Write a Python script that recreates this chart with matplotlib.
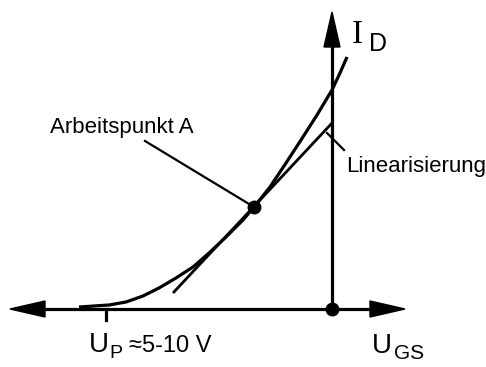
import numpy as np
import matplotlib.pyplot as plt
from matplotlib.patches import Polygon

# Kennlinie (U_GS, I_D) in Zeichnungseinheiten, Ursprung = Achsenkreuz
ugs = [-253, -223, -206, -189, -173, -156, -139, -123, -106, -89, -78,
       -62, -46, -31, -15, 0, 8, 15]
i_d = [2, 4, 7, 13, 21, 31, 42, 56, 72, 89, 102,
       122, 146, 169, 194, 219, 236, 252]

# Linearisierung (Tangente im Arbeitspunkt)
lin_u = [-159, 1]
lin_i = [16, 187]

# Arbeitspunkt A
a_u, a_i = -78, 102
up_u = -226   # Lage von U_P

x_min, x_max = -322, 73
y_max = 297

sans = ['Liberation Sans', 'DejaVu Sans']

fig = plt.figure(figsize=(4.86, 3.67), dpi=100)
ax = fig.add_axes([0, 0, 1, 1])
ax.set_xlim(-332, 154)
ax.set_ylim(-58, 309)
ax.axis('off')

lw = 2.3
# Achsen
ax.plot([x_min + 30, x_max - 30], [0, 0], color='black', lw=lw)
ax.plot([0, 0], [0, y_max - 30], color='black', lw=lw)
hl, hw = 35, 8
ax.add_patch(Polygon([[x_max, 0], [x_max - hl, hw], [x_max - hl, -hw]], color='black'))
ax.add_patch(Polygon([[x_min, 0], [x_min + hl, hw], [x_min + hl, -hw]], color='black'))
ax.add_patch(Polygon([[0, y_max], [-hw, y_max - hl], [hw, y_max - hl]], color='black'))
ax.plot([up_u, up_u], [0, -11], color='black', lw=lw)

# Kennlinie und Tangente
ax.plot(ugs, i_d, color='black', lw=lw, solid_capstyle='butt', solid_joinstyle='round')
ax.plot(lin_u, lin_i, color='black', lw=2.0, solid_capstyle='butt')

# Punkte
ax.plot([a_u], [a_i], 'o', color='black', ms=9)
ax.plot([0], [0], 'o', color='black', ms=9)

# Beschriftungen
ax.plot([-187, a_u], [168, a_i], color='black', lw=1.6)
ax.text(-282, 176, 'Arbeitspunkt A', family=sans, fontsize=16, va='baseline')
ax.plot([-5, 12], [176, 159], color='black', lw=1.6)
ax.text(14, 137, 'Linearisierung', family=sans, fontsize=16, va='baseline')

ax.text(20, 266, 'I', family=['Liberation Serif', 'DejaVu Serif'], fontsize=24, va='baseline')
ax.text(37, 258, 'D', family=sans, fontsize=18, va='baseline')

ax.text(40, -44, 'U', family=sans, fontsize=20, va='baseline')
ax.text(62, -50, 'GS', family=sans, fontsize=15, va='baseline')

ax.text(-243, -43, 'U', family=sans, fontsize=20, va='baseline')
ax.text(-223, -49, 'P', family=sans, fontsize=14, va='baseline')
ax.text(-203, -43, '\u22485-10 V', family=sans, fontsize=17, va='baseline')

fig.savefig('out.png', dpi=100)
